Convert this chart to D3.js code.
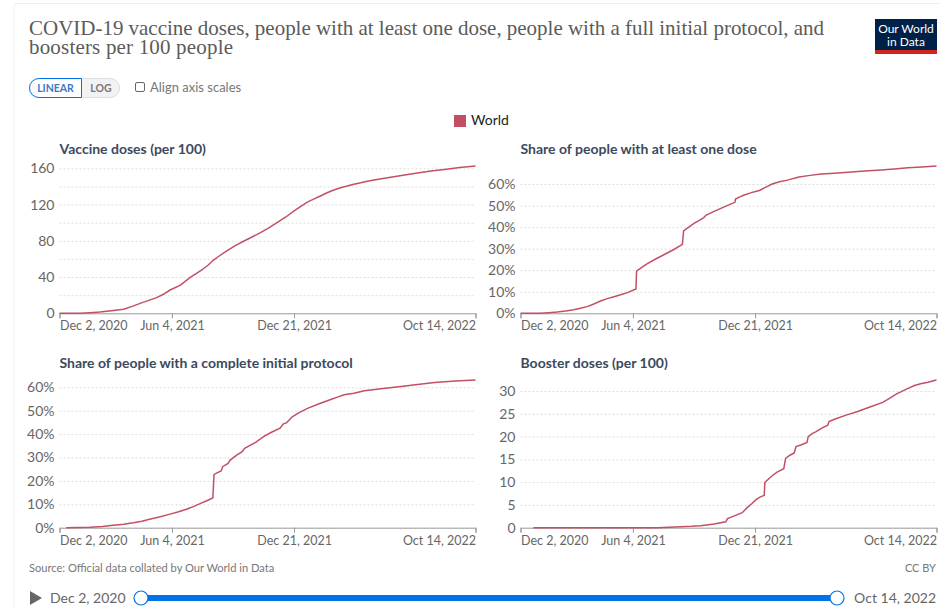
<!DOCTYPE html>
<html>
<head>
<meta charset="utf-8">
<script src="https://cdn.jsdelivr.net/npm/d3@7"></script>
<style>
  body { margin: 0; background: #fff; }
  text { font-family: Lato, "Open Sans", sans-serif; }
  .axis-x path, .axis-x line { stroke: #999; }
  .axis-y path { display: none; }
  .axis-y .tick line { stroke: #ddd; stroke-dasharray: 2,2; }
  .axis-x text { font-size: 12.5px; fill: #666; font-family: Lato; }
  .axis-y text { font-size: 14px; fill: #666; font-family: Lato; }
</style>
</head>
<body>
<div id="chart-area"></div>
<script>
// days since Dec 2, 2020
const doseDays = [0,34,50,66,85,105,119,132,145,159,170,181,198,214,223,233,243,252,262,272,287,302,316,329,342,356,370,384,395,405,416,427,438,449,460,471,482,493,504,515,542,565,586,608,630,655,681];
const doseValues = [0,0,0.7,1.5,2.8,4.4,7.6,11,14,17.3,21,25.7,31,39.7,43.5,47.8,53,58.8,63.5,68,74.5,79.8,84.5,89,94,100,106,113,118,122.4,126,129.4,133,136,138.5,140.4,142.5,144,145.7,147,150,152.5,154.8,157,158.8,160.8,162.5];

const oneDoseDays = [0,16,32,46,60,74,87,98,109,120,131,142,153,164,175,189,190,198,207,222,237,251,265,267,284,292,300,304,316,328,340,351,352,359,366,378,391,401,412,424,437,447,456,474,492,514,536,563,590,612,634,657,681];
const oneDoseValues = [0,0,0,0.3,0.6,1.1,1.7,2.3,3.1,4.3,5.7,6.8,7.7,8.6,9.6,11.3,19.6,21.2,22.9,25.3,27.5,29.6,32,38.2,41.7,43,44.4,45.6,47.2,48.7,50.2,51.5,53,54,54.9,56,57,58.4,60,61,61.8,62.6,63.2,64,64.6,65,65.4,66,66.5,67,67.5,67.9,68.3];

const fullDays = [11,30,50,70,88,105,121,135,149,165,181,195,209,220,231,241,251,253,265,267,276,279,290,299,303,321,334,347,361,366,372,381,393,406,425,444,455,466,482,499,530,559,586,614,648,681];
const fullValues = [0,0.05,0.15,0.5,1,1.5,2.1,2.8,3.7,4.7,5.8,6.8,8,9.1,10.4,11.5,12.7,22.8,24.4,26.1,27.5,28.8,31,32.5,33.9,36.5,38.9,40.8,42.5,44.3,44.9,47.4,49.3,51,53,54.8,55.8,56.8,57.5,58.5,59.5,60.3,61.2,62,62.7,63.1];

const boosterDays = [21,224,262,280,295,317,336,339,350,363,371,378,385,392,399,400,406,412,420,431,434,441,448,451,460,469,471,478,484,494,503,505,514,533,552,572,593,604,615,630,645,655,667,681];
const boosterValues = [0,0,0.2,0.3,0.45,0.8,1.3,2,2.6,3.3,4.4,5.2,6.1,6.7,7.1,9.9,10.7,11.4,12.2,12.95,15.2,15.9,16.4,17.8,18.2,18.7,20,20.7,21.1,21.9,22.5,23.3,23.8,24.7,25.5,26.5,27.5,28.4,29.3,30.3,31.2,31.6,31.9,32.4];

const tickDays = [0,184,384,681];
const tickLabels = ["Dec 2, 2020","Jun 4, 2021","Dec 21, 2021","Oct 14, 2022"];

const doseTicks = [0,20,40,60,80,100,120,140,160];
const shareTicks = [0,10,20,30,40,50,60];
const boosterTicks = [0,5,10,15,20,25,30];

const lineColor = "#c15065";

const svg = d3.select("#chart-area").append("svg")
    .attr("width", 940)
    .attr("height", 608);

// card
svg.append("path")
    .attr("d", "M14,608V6Q14,3.5 17,3.5H940")
    .attr("fill", "none")
    .attr("stroke", "#eeeeee");

// title
const titleLines = ["COVID-19 vaccine doses, people with at least one dose, people with a full initial protocol, and", "boosters per 100 people"];
const titleWidths = [795, 204];
svg.selectAll(".title")
    .data(titleLines)
    .enter().append("text")
    .attr("class", "title")
    .attr("x", 29)
    .attr("y", (d, i) => 35 + i * 19.3)
    .attr("textLength", (d, i) => titleWidths[i])
    .text(d => d)
    .attr("style", "font-family:'Liberation Serif'; font-size: 21px; fill: #5b5b5b");

// logo
svg.append("rect").attr("x", 875).attr("y", 19).attr("width", 62).attr("height", 35).attr("fill", "#002147");
svg.append("rect").attr("x", 875).attr("y", 50).attr("width", 62).attr("height", 4).attr("fill", "#ce261e");
["Our World", "in Data"].forEach((t, i) => {
    svg.append("text")
        .attr("x", 906)
        .attr("y", 33 + i * 13)
        .attr("text-anchor", "middle")
        .text(t)
        .attr("style", "font-size: 12px; fill: #fff");
});

// linear / log toggle
svg.append("rect").attr("x", 29.5).attr("y", 78.5).attr("width", 90).attr("height", 19).attr("rx", 9.5)
    .attr("fill", "#f2f2f2").attr("stroke", "#dddddd");
svg.append("path")
    .attr("d", "M81.5,78.5H39A9.5,9.5 0 0 0 39,97.5H81.5Z")
    .attr("fill", "#fff").attr("stroke", "#0073e6");
svg.append("text").attr("x", 55.5).attr("y", 92).attr("text-anchor", "middle").text("LINEAR")
    .attr("style", "font-size: 10.5px; font-weight: bold; fill: #3f78c8");
svg.append("text").attr("x", 101).attr("y", 92).attr("text-anchor", "middle").text("LOG")
    .attr("style", "font-size: 10.5px; font-weight: bold; fill: #777");
svg.append("rect").attr("x", 135.5).attr("y", 82.5).attr("width", 9).attr("height", 9).attr("rx", 1.5)
    .attr("fill", "#fff").attr("stroke", "#666");
svg.append("text").attr("x", 150).attr("y", 92).text("Align axis scales")
    .attr("style", "font-size: 13px; fill: #777");

// legend
svg.append("rect").attr("x", 454).attr("y", 115).attr("width", 12).attr("height", 12).attr("fill", lineColor);
svg.append("text").attr("x", 471).attr("y", 125).text("World")
    .attr("style", "font-size: 14px; fill: #222");

function drawPanel(p) {
    let x = d3.scaleLinear().domain([0, 681]).range([p.left, p.left + 416]);
    let y = d3.scaleLinear().domain([0, p.yMax]).range([p.y0, p.yTop]);

    svg.append("text")
        .attr("x", p.left)
        .attr("y", p.titleY)
        .text(p.title)
        .attr("style", "font-size: 14px; font-weight: bold; fill: #3b4a5e");

    let yAxis = svg.append("g")
        .attr("class", "axis-y")
        .attr("transform", "translate(" + p.left + ",0)")
        .call(d3.axisLeft(y)
            .tickValues(p.ticks)
            .tickSize(-416)
            .tickPadding(5)
            .tickFormat(p.format));
    yAxis.selectAll(".tick").filter(d => d === 0).select("line").remove();

    let xAxis = svg.append("g")
        .attr("class", "axis-x")
        .attr("transform", "translate(0," + p.y0 + ")")
        .call(d3.axisBottom(x)
            .tickValues(tickDays)
            .tickSizeOuter(0)
            .tickSize(5)
            .tickPadding(3)
            .tickFormat((d, i) => tickLabels[i]));
    xAxis.selectAll(".tick text")
        .attr("text-anchor", (d, i) => i === 0 ? "start" : (i === 3 ? "end" : "middle"));

    let line = d3.line()
        .x((d, i) => x(p.days[i]))
        .y(d => y(d));

    svg.append("path")
        .datum(p.values)
        .attr("d", line)
        .attr("fill", "none")
        .attr("stroke", lineColor)
        .attr("stroke-width", 1.5);
}

drawPanel({
    title: "Vaccine doses (per 100)", left: 59.5, titleY: 154, y0: 313.3, yTop: 168.3, yMax: 160,
    ticks: doseTicks, days: doseDays, values: doseValues,
    format: d => d % 40 === 0 ? d : ""
});
drawPanel({
    title: "Share of people with at least one dose", left: 520.5, titleY: 154, y0: 313.3, yTop: 184, yMax: 60,
    ticks: shareTicks, days: oneDoseDays, values: oneDoseValues,
    format: d => d + "%"
});
drawPanel({
    title: "Share of people with a complete initial protocol", left: 59.5, titleY: 368, y0: 527.7, yTop: 387.3, yMax: 60,
    ticks: shareTicks, days: fullDays, values: fullValues,
    format: d => d + "%"
});
drawPanel({
    title: "Booster doses (per 100)", left: 520.5, titleY: 368, y0: 527.7, yTop: 391, yMax: 30,
    ticks: boosterTicks, days: boosterDays, values: boosterValues,
    format: d => d
});

// footer
svg.append("text").attr("x", 29).attr("y", 572).text("Source: Official data collated by Our World in Data")
    .attr("style", "font-size: 11.1px; fill: #777");
svg.append("text").attr("x", 936).attr("y", 572).attr("text-anchor", "end").text("CC BY")
    .attr("style", "font-size: 11px; fill: #777");

// timeline
svg.append("path").attr("d", "M30,591L42,598L30,605Z").attr("fill", "#666");
svg.append("text").attr("x", 50).attr("y", 603).text(tickLabels[0])
    .attr("style", "font-size: 14px; fill: #666");
svg.append("text").attr("x", 936).attr("y", 603).attr("text-anchor", "end").text(tickLabels[3])
    .attr("style", "font-size: 14px; fill: #666");
svg.append("rect").attr("x", 141).attr("y", 595).attr("width", 696).attr("height", 6).attr("fill", "#0073e6");
[141, 837].forEach(cx => {
    svg.append("circle").attr("cx", cx).attr("cy", 598).attr("r", 7)
        .attr("fill", "#fff").attr("stroke", "#0073e6").attr("stroke-width", 1.2);
});
</script>
</body>
</html>
